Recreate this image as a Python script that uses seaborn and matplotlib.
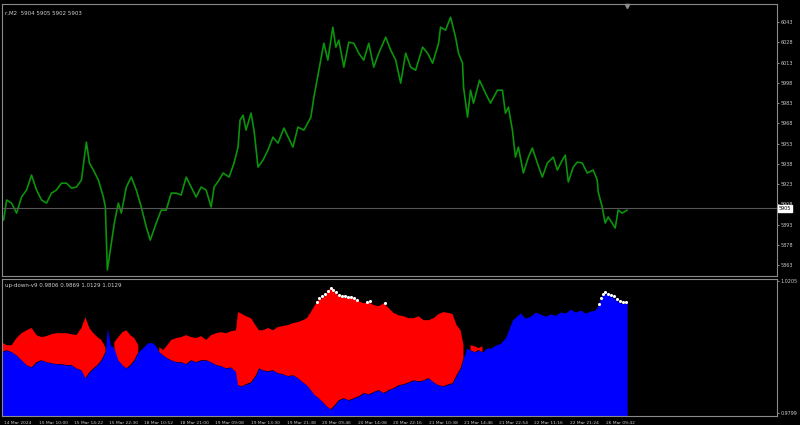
import numpy as np
import pandas as pd
import matplotlib
matplotlib.use("Agg")
import matplotlib.pyplot as plt
import seaborn as sns

# price line (bar number, price)
price_bar = [2, 5, 10, 15, 20, 25, 30, 35, 40, 45, 50, 55, 60, 65, 70, 75, 80, 85, 88, 92,
             97, 102, 104, 106, 110, 113, 117, 120, 125, 130, 135, 140, 145, 149, 155, 160, 165, 170, 175, 180,
             185, 190, 195, 200, 205, 210, 213, 218, 222, 228, 233, 237, 239, 242, 245, 250, 253, 257, 262, 267,
             272, 277, 283, 292, 297, 303, 310, 313, 318, 323, 327, 332, 335, 338, 343, 348, 353, 358, 363, 368,
             373, 378, 385, 390, 395, 400, 405, 410, 415, 422, 427, 432, 438, 440, 445, 450, 455, 458, 462, 463,
             467, 470, 473, 479, 485, 490, 497, 502, 505, 508, 512, 515, 518, 523, 528, 532, 537, 542, 547, 553,
             557, 562, 565, 568, 573, 577, 582, 587, 593, 597, 598, 602, 605, 608, 612, 615, 618, 622, 627]
price = [5896.3, 5911.2, 5908.9, 5901.5, 5913.4, 5918.6, 5929.7, 5918.6, 5911.2, 5908.9,
         5916.3, 5918.6, 5923.7, 5923.7, 5920.0, 5920.8, 5926.0, 5954.1, 5938.6, 5933.4,
         5926.0, 5913.4, 5906.0, 5859.3, 5879.3, 5894.1, 5908.9, 5901.5, 5920.8, 5928.2,
         5918.6, 5906.0, 5891.2, 5881.5, 5894.1, 5903.7, 5903.7, 5916.3, 5916.3, 5914.9,
         5928.2, 5920.8, 5913.4, 5920.8, 5918.6, 5906.0, 5920.8, 5926.0, 5931.2, 5928.2,
         5938.6, 5950.4, 5970.4, 5974.1, 5963.0, 5975.6, 5963.0, 5935.6, 5940.8, 5948.2,
         5957.8, 5953.4, 5964.5, 5950.4, 5965.2, 5963.0, 5972.6, 5987.4, 6007.4, 6027.4,
         6014.9, 6039.3, 6024.5, 6029.7, 6009.7, 6028.2, 6027.4, 6020.0, 6014.9, 6027.4,
         6009.7, 6020.0, 6031.9, 6022.3, 6014.9, 5997.8, 6020.0, 6009.7, 6007.4, 6024.5,
         6020.0, 6012.6, 6027.4, 6039.3, 6037.1, 6046.7, 6031.9, 6020.0, 6012.6, 5994.9,
         5972.6, 5992.6, 5983.0, 6000.0, 5990.4, 5983.0, 5992.6, 5992.6, 5975.6, 5980.0,
         5963.0, 5943.0, 5950.4, 5931.2, 5943.0, 5949.7, 5938.6, 5928.2, 5938.6, 5943.0,
         5933.4, 5940.8, 5944.5, 5924.5, 5935.6, 5939.3, 5938.6, 5931.2, 5933.4, 5926.0,
         5917.1, 5906.0, 5894.1, 5898.6, 5894.1, 5890.4, 5903.7, 5901.5, 5903.7]
last_price = 5905
price_ticks = [6043, 6028, 6013, 5998, 5983, 5968, 5953, 5938, 5923, 5908, 5893, 5878, 5863]

# up-down-v9 indicator: blue level and red top (nan = no red)
ind_bar = [0, 5, 10, 15, 20, 25, 30, 35, 40, 45, 50, 55, 60, 65, 70, 75, 80, 84, 88, 92,
           96, 100, 104, 106, 109, 113, 117, 121, 125, 129, 133, 137, 141, 146, 150, 154, 158, 162, 166, 170,
           175, 180, 185, 190, 195, 200, 205, 210, 215, 220, 225, 230, 235, 237, 241, 245, 250, 255, 258, 262,
           267, 272, 277, 282, 287, 292, 297, 302, 306, 310, 314, 318, 322, 326, 330, 334, 338, 343, 348, 353,
           358, 363, 368, 373, 378, 383, 388, 393, 398, 403, 408, 413, 418, 423, 428, 433, 438, 443, 448, 452,
           456, 460, 463, 466, 470, 474, 478, 482, 486, 490, 495, 500, 505, 508, 512, 516, 520, 525, 530, 535,
           540, 545, 550, 555, 560, 565, 570, 575, 580, 585, 590, 595, 598, 601, 604, 608, 612, 616, 620, 624, 627]
blue_level = [0.9987, 0.9993, 0.9987, 0.9977, 0.9962, 0.9947, 0.9940, 0.9956, 0.9962, 0.9956,
              0.9953, 0.9950, 0.9950, 0.9947, 0.9947, 0.9937, 0.9931, 0.9907, 0.9925, 0.9937,
              0.9947, 0.9962, 0.9987, 1.0061, 1.0008, 0.9999, 0.9962, 0.9947, 0.9937, 0.9947,
              0.9962, 0.9987, 0.9999, 1.0014, 1.0017, 1.0008, 0.9987, 0.9977, 0.9968, 0.9962,
              0.9956, 0.9956, 0.9950, 0.9962, 0.9956, 0.9962, 0.9962, 0.9956, 0.9947, 0.9944,
              0.9937, 0.9940, 0.9925, 0.9885, 0.9882, 0.9888, 0.9894, 0.9916, 0.9937, 0.9931,
              0.9928, 0.9931, 0.9922, 0.9919, 0.9913, 0.9916, 0.9907, 0.9894, 0.9885, 0.9870,
              0.9854, 0.9845, 0.9833, 0.9820, 0.9811, 0.9824, 0.9839, 0.9845, 0.9839, 0.9845,
              0.9851, 0.9861, 0.9857, 0.9864, 0.9870, 0.9861, 0.9870, 0.9876, 0.9885, 0.9888,
              0.9894, 0.9900, 0.9897, 0.9900, 0.9907, 0.9894, 0.9885, 0.9882, 0.9888, 0.9891,
              0.9916, 0.9937, 0.9968, 0.9999, 0.9993, 0.9987, 0.9993, 0.9987, 0.9999, 0.9999,
              1.0008, 1.0014, 1.0030, 1.0054, 1.0085, 1.0097, 1.0107, 1.0091, 1.0097, 1.0110,
              1.0104, 1.0097, 1.0104, 1.0100, 1.0110, 1.0107, 1.0119, 1.0110, 1.0116, 1.0107,
              1.0113, 1.0116, 1.0131, 1.0156, 1.0171, 1.0162, 1.0156, 1.0147, 1.0137, 1.0137, 1.0137]
red_top = [1.0017, 1.0008, 1.0008, 1.0030, 1.0045, 1.0054, 1.0061, 1.0039, 1.0033, 1.0036,
           1.0042, 1.0045, 1.0045, 1.0045, 1.0042, 1.0039, 1.0061, 1.0094, 1.0061, 1.0045,
           1.0033, 1.0024, 1.0002, np.nan, np.nan, 1.0017, 1.0033, 1.0048, 1.0054, 1.0039,
           1.0030, 1.0008, np.nan, np.nan, np.nan, np.nan, 1.0002, 0.9993, 1.0008, 1.0024,
           1.0030, 1.0033, 1.0039, 1.0033, 1.0030, 1.0036, 1.0024, 1.0039, 1.0045, 1.0048,
           1.0045, 1.0051, 1.0054, 1.0110, 1.0104, 1.0097, 1.0091, 1.0067, 1.0054, 1.0054,
           1.0061, 1.0054, 1.0064, 1.0067, 1.0070, 1.0076, 1.0079, 1.0085, 1.0091, 1.0110,
           1.0131, 1.0147, 1.0153, 1.0168, 1.0187, 1.0171, 1.0159, 1.0153, 1.0156, 1.0150,
           1.0143, 1.0137, 1.0140, 1.0131, 1.0128, 1.0137, 1.0122, 1.0107, 1.0100, 1.0097,
           1.0091, 1.0091, 1.0097, 1.0085, 1.0085, 1.0091, 1.0104, 1.0110, 1.0107, 1.0104,
           1.0070, 1.0054, 1.0008, np.nan, 1.0008, 1.0005, 0.9999, 1.0005, np.nan, np.nan,
           np.nan, np.nan, np.nan, np.nan, np.nan, np.nan, np.nan, np.nan, np.nan, np.nan,
           np.nan, np.nan, np.nan, np.nan, np.nan, np.nan, np.nan, np.nan, np.nan, np.nan,
           np.nan, np.nan, np.nan, np.nan, np.nan, np.nan, np.nan, np.nan, np.nan, np.nan, np.nan]
dot_bar = [316, 318, 321, 324, 327, 330, 332, 335, 338, 341, 344, 347, 350, 353, 356, 366, 369, 384,
           599, 601, 603, 605, 608, 611, 614, 617, 620, 623, 626]
dot_val = [1.0140, 1.0153, 1.0159, 1.0165, 1.0174, 1.0183, 1.0177, 1.0171, 1.0162, 1.0159,
           1.0159, 1.0156, 1.0156, 1.0153, 1.0147, 1.0140, 1.0143, 1.0137,
           1.0134, 1.0153, 1.0165, 1.0171, 1.0165, 1.0162, 1.0159, 1.0150, 1.0143, 1.0140, 1.0140]
ind_ticks = [1.0205, 0.9799]

time_bar = [2, 37, 73, 108, 143, 179, 214, 250, 286, 321, 357, 392, 428, 463, 499, 534, 570, 606]
time_labels = ["14 Mar 2024", "15 Mar 10:00", "15 Mar 14:22", "15 Mar 22:30", "18 Mar 10:52",
               "18 Mar 21:00", "19 Mar 09:08", "19 Mar 13:30", "19 Mar 21:38", "20 Mar 09:46",
               "20 Mar 14:08", "20 Mar 22:16", "21 Mar 10:38", "21 Mar 14:46", "21 Mar 22:54",
               "22 Mar 11:16", "22 Mar 21:24", "26 Mar 09:42"]

sns.set_style("dark")
plt.rcParams['font.family'] = ['DejaVu Sans']

fig = plt.figure(figsize=(8, 4.25), dpi=100, facecolor='black')
ax1 = fig.add_axes([0.002, 0.351, 0.969, 0.639])
ax2 = fig.add_axes([0.002, 0.021, 0.969, 0.322])

for ax in (ax1, ax2):
    ax.set_facecolor('black')
    for s in ax.spines.values():
        s.set_color('#8a8a8a')
        s.set_linewidth(0.8)
    ax.set_xlim(0, 777)
    ax.yaxis.tick_right()
    ax.tick_params(axis='y', colors='#c8c8c8', labelsize=3.5, length=1.5, width=0.5, pad=1)
    ax.grid(False)

# main price chart
df = pd.DataFrame({'bar': price_bar, 'price': price})
sns.lineplot(data=df, x='bar', y='price', ax=ax1, color='#0b930b', linewidth=1.2)
ax1.axhline(last_price, color='#555555', linewidth=0.8)
ax1.set_ylim(5855, 6056.3)
ax1.set_yticks(price_ticks)
ax1.set_yticklabels([str(t) for t in price_ticks])
ax1.set_xticks([])
ax1.set_xlabel('')
ax1.set_ylabel('')
ax1.text(779, last_price, str(last_price), transform=ax1.transData, fontsize=3.5, color='black',
         va='center', ha='left', clip_on=False,
         bbox=dict(boxstyle='square,pad=0.2', fc='white', ec='white'))
ax1.text(0.004, 0.975, "r,M2  5904 5905 5902 5903", transform=ax1.transAxes, fontsize=4.0,
         color='#d0d0d0', va='top', ha='left')
ax1.plot([627], [6055], marker='v', color='#8a8a8a', markersize=3, clip_on=False)

# indicator panel
ind = pd.DataFrame({'bar': ind_bar, 'blue': blue_level, 'red': red_top})
bottom = 0.9790
ax2.fill_between(ind['bar'], bottom, ind['blue'], color='#0000ff', linewidth=0)
red_mask = ind['red'].notna().to_numpy()
ax2.fill_between(ind['bar'], ind['blue'], ind['red'].fillna(0), where=red_mask,
                 color='#ff0000', linewidth=0)
dots = pd.DataFrame({'bar': dot_bar, 'val': dot_val})
sns.scatterplot(data=dots, x='bar', y='val', ax=ax2, color='white', s=5, linewidth=0)
ax2.set_ylim(bottom, 1.0211)
ax2.set_yticks(ind_ticks)
ax2.set_yticklabels(["1.0205", "0.9799"])
ax2.set_xlabel('')
ax2.set_ylabel('')
ax2.set_xticks(time_bar)
ax2.set_xticklabels(time_labels, ha='left')
ax2.tick_params(axis='x', colors='#c8c8c8', labelsize=3.2, length=2, width=0.5, pad=1.5)
ax2.text(0.004, 0.97, "up-down-v9 0.9806 0.9869 1.0129 1.0129", transform=ax2.transAxes,
         fontsize=4.0, color='#d0d0d0', va='top', ha='left')

fig.savefig('out.png', dpi=100, facecolor='black')
